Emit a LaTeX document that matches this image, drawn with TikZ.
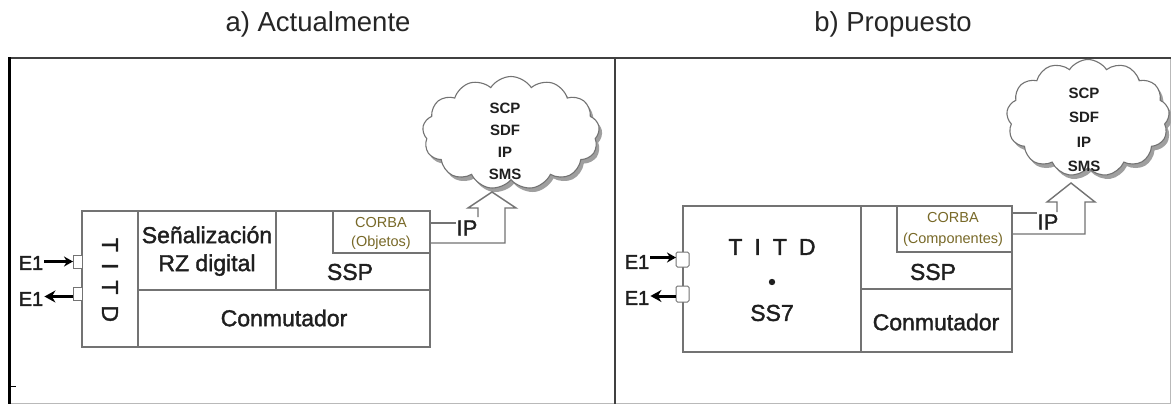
\documentclass[tikz,border=0pt]{standalone}
\usepackage{fontspec}
\setmainfont{Liberation Sans}
\newfontfamily\medfont{Liberation Sans}[FakeBold=1.6]
\usetikzlibrary{shapes.symbols,arrows.meta,shadows}
\definecolor{ln}{gray}{0.45}
\definecolor{frm}{gray}{0.25}
\definecolor{corbac}{RGB}{120,105,40}
\definecolor{txc}{gray}{0.12}
\begin{document}
\begin{tikzpicture}[x=1pt,y=-1pt,
  cell/.style={draw=ln,line width=1.6pt,inner sep=0pt,outer sep=0pt,anchor=north west},
  txt/.style={inner sep=0pt,text=txc,font=\medfont\fontsize{23}{28}\selectfont},
  small/.style={inner sep=0pt,text=corbac,font=\fontsize{14.5}{18}\selectfont},
  cloudtxt/.style={inner sep=0pt,text=txc,align=center,font=\bfseries\fontsize{15}{22}\selectfont},
  cloudnode/.style={cloud,cloud puffs=13,cloud puff arc=115,aspect=1.6,draw=ln,fill=white,
     line width=1.1pt,inner sep=0pt,
     drop shadow={shadow xshift=3pt,shadow yshift=-4pt,fill=gray!75,opacity=1}},
  port/.style={draw=ln,line width=1pt,fill=white,inner sep=0pt,outer sep=0pt},
  e1txt/.style={inner sep=0pt,text=txc,font=\medfont\fontsize{20}{24}\selectfont},
  e1in/.style={-{Stealth[length=9pt,width=10pt]},line width=2.4pt,black},
  e1out/.style={-{Stealth[length=11pt,width=12pt]},line width=3pt,black},
  blk/.style={draw=ln,line width=1.4pt},
  iptxt/.style={inner sep=0pt,text=txc,font=\medfont\fontsize{22}{26}\selectfont},
  title/.style={inner sep=0pt,text=black!85,font=\fontsize{27.5}{32}\selectfont}]
\useasboundingbox (0,0) rectangle (1171,404);
\fill[white] (0,0) rectangle (1171,404);

% frame
\draw[gray!55,line width=1pt] (9,403) -- (1170,403) -- (1170,58);
\draw[frm,line width=2pt] (9,58) -- (1171,58);
\draw[black,line width=3pt] (9,404) -- (9,57);
\draw[frm,line width=2pt] (615,58) -- (615,404);
\draw[black,line width=1pt] (10,386) -- (16,386);

% titles
\node[title] (ta) at (318,24) {a) Actualmente};
\node[title] (tb) at (893,24) {b) Propuesto};

% ---------------- left panel ----------------
\node[cloudnode,minimum width=177pt,minimum height=113pt] (cloudL) at (511,133) {};
\node[cloudtxt] (cloudLt) at (505,141) {SCP\\SDF\\IP\\SMS};

\node[cell,minimum width=348pt,minimum height=136pt] (BL) at (82,211) {};
\node[cell,minimum width=56pt,minimum height=136pt] (TL) at (82,211) {};
\node[cell,minimum width=138pt,minimum height=79pt] (SL) at (138,211) {};
\node[cell,minimum width=154pt,minimum height=79pt] (SSPL) at (276,211) {};
\node[cell,minimum width=97pt,minimum height=42pt] (CL) at (333,211) {};
\node[cell,minimum width=292pt,minimum height=57pt] (KL) at (138,290) {};

\node[txt,rotate=-90] (titdL) at (110,280) {T\hspace{11pt}I\hspace{11pt}T\hspace{11pt}D};
\node[txt,align=center] (senal) at (207,251) {Señalización\\RZ digital};
\node[small] (corbaL) at (381,223) {CORBA};
\node[small] (objL) at (381,243) {(Objetos)};
\node[txt] (sspL) at (350,272) {SSP};
\node[txt] (conL) at (284,318) {Conmutador};

\node[port,minimum width=9pt,minimum height=13pt] (pLa) at (77.5,261.5) {};
\node[port,minimum width=9pt,minimum height=13pt] (pLb) at (77.5,293.5) {};
\node[e1txt] (eLa) at (31,263) {E1};
\node[e1txt] (eLb) at (31,299) {E1};
\coordinate (aLs) at ([xshift=1pt]eLa.east |- pLa.west);
\draw[e1in] (aLs) -- (pLa.west);
\coordinate (bLs) at ([yshift=-3pt]pLb.west);
\coordinate (bLe) at ([xshift=1pt]bLs -| eLb.east);
\draw[e1out] (bLs) -- (bLe);

\node[iptxt] (ipL) at (467,228) {IP};
\coordinate (uL) at ([yshift=9pt]CL.east);
\coordinate (lL) at ([yshift=-11pt]CL.east);
\draw[blk] (uL) -- (ipL.west |- uL);
\draw[blk] (lL) -| (505,208) -- (516,208) -- (492,192) -- (468,208) -- (478,208) -- (478,217);

% ---------------- right panel ----------------
\node[cloudnode,minimum width=163pt,minimum height=117pt] (cloudR) at (1088,118) {};
\node[cloudtxt,font=\bfseries\fontsize{15}{24.5}\selectfont] (cloudRt) at (1084,130) {SCP\\SDF\\IP\\SMS};

\node[cell,minimum width=329pt,minimum height=146pt] (BR) at (683,206) {};
\node[cell,minimum width=178pt,minimum height=146pt] (TR) at (683,206) {};
\node[cell,minimum width=151pt,minimum height=83pt] (SSPR) at (861,206) {};
\node[cell,minimum width=115pt,minimum height=46pt,line width=2.4pt] (CR) at (897,206) {};
\node[cell,minimum width=151pt,minimum height=63pt] (KR) at (861,289) {};

\node[txt] (titdR) at (772,247) {T\hspace{12pt}I\hspace{12pt}T\hspace{12pt}D};
\fill[txc] (772,282) circle (3.2pt);
\node[txt] (ss7) at (772,313) {SS7};
\node[small] (corbaR) at (953,218) {CORBA};
\node[small] (compR) at (953,240) {(Componentes)};
\node[txt] (sspR) at (933,272) {SSP};
\node[txt] (conR) at (936,322) {Conmutador};

\node[port,minimum width=13pt,minimum height=15pt,rounded corners=1.5pt] (pRa) at (682.5,259.5) {};
\node[port,minimum width=13pt,minimum height=16pt,rounded corners=1.5pt] (pRb) at (682.5,294) {};
\node[e1txt] (eRa) at (637,262) {E1};
\node[e1txt] (eRb) at (637,298) {E1};
\coordinate (aRe) at ([yshift=2pt]pRa.west);
\coordinate (aRs) at ([xshift=1pt]aRe -| eRa.east);
\draw[e1in] (aRs) -- (aRe);
\coordinate (bRs) at ([yshift=-2pt]pRb.west);
\coordinate (bRe) at ([xshift=1pt]bRs -| eRb.east);
\draw[e1out] (bRs) -- (bRe);

\node[iptxt] (ipR) at (1048,222) {IP};
\coordinate (uR) at ([yshift=16pt]CR.east);
\coordinate (lR) at ([yshift=-5pt]CR.east);
\draw[blk] (uR) -- (ipR.west |- uR);
\draw[blk] (lR) -| (1085,202) -- (1095,202) -- (1071,183) -- (1047,202) -- (1057,202) -- (1057,212);
\end{tikzpicture}
\end{document}
